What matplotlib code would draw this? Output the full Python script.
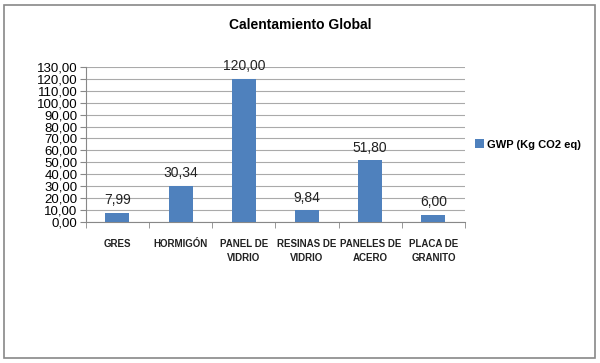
import matplotlib.pyplot as plt
from matplotlib.patches import Rectangle
import numpy as np

categories = ['GRES', 'HORMIGÓN', 'PANEL DE\nVIDRIO', 'RESINAS DE\nVIDRIO', 'PANELES DE\nACERO', 'PLACA DE\nGRANITO']
values = [7.99, 30.34, 120.00, 9.84, 51.80, 6.00]
series_name = 'GWP (Kg CO2 eq)'
title = 'Calentamiento Global'

plt.rcParams['font.family'] = ['Liberation Sans', 'DejaVu Sans']

def comma(v):
    return f'{v:.2f}'.replace('.', ',')

fig = plt.figure(figsize=(6, 3.63), dpi=100)
ax = fig.add_axes([0.143, 0.388, 0.632, 0.428])

# outer chart border
fig.patches.append(Rectangle((0.007, 0.014), 0.985, 0.972, transform=fig.transFigure,
                             fill=False, edgecolor='#888888', linewidth=1.2))

x = np.arange(len(categories))
bars = ax.bar(x, values, width=0.38, color='#4F81BD', label=series_name, zorder=3)

for xi, v in zip(x, values):
    ax.annotate(comma(v), (xi, v), xytext=(0, 4), textcoords='offset points',
                ha='center', va='bottom', fontsize=10, color='#222222')

ax.set_xlim(-0.5, len(categories) - 0.5)
ax.set_ylim(0, 130)
ax.set_yticks(np.arange(0, 131, 10))
ax.set_yticklabels([comma(t) for t in np.arange(0, 131, 10)], fontsize=9.5)
ax.grid(axis='y', color='#AAAAAA', linewidth=0.8, zorder=0)

ax.set_xticks(x)
ax.set_xticklabels(categories, fontsize=7, fontweight='bold', linespacing=1.5,
                   family=['Liberation Sans Narrow', 'Liberation Sans', 'DejaVu Sans'],
                   color='#222222')
ax.tick_params(axis='x', length=0, pad=12)
# boundary ticks
ax.set_xticks(np.arange(-0.5, len(categories), 1), minor=True)
ax.tick_params(axis='x', which='minor', length=4, color='#888888')
ax.tick_params(axis='y', length=4, color='#888888', pad=2)

for s in ['top', 'right']:
    ax.spines[s].set_visible(False)
for s in ['left', 'bottom']:
    ax.spines[s].set_color('#888888')

fig.text(0.5, 0.93, title, ha='center', va='center', fontsize=10, fontweight='bold')

ax.legend(loc='center left', bbox_to_anchor=(1.0, 0.5), frameon=False,
          handlelength=0.8, handleheight=0.8, handletextpad=0.3,
          prop={'weight': 'bold', 'size': 8})

fig.savefig('out.png', dpi=100)
